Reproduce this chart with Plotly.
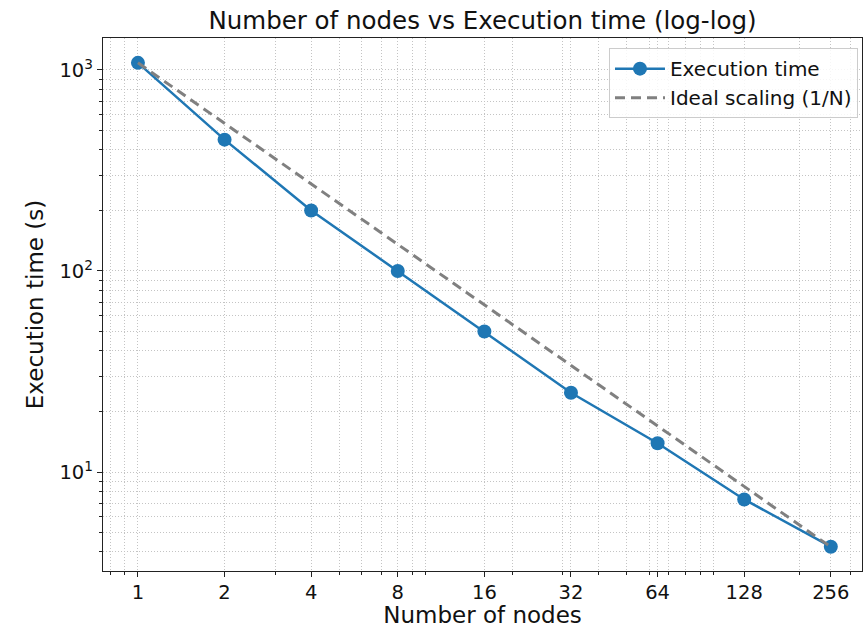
import numpy as np
import plotly.graph_objects as go

nodes = [1, 2, 4, 8, 16, 32, 64, 128, 256]
exec_time = [1085, 450, 200, 100, 50, 24.8, 13.9, 7.3, 4.25]
ideal_time = [exec_time[0] / n for n in nodes]

x_tick_vals = nodes
x_tick_text = [str(n) for n in nodes]
y_tick_vals = [10, 100, 1000]
y_tick_text = ["10<sup>1</sup>", "10<sup>2</sup>", "10<sup>3</sup>"]

x_minor = [0.7, 0.8, 0.9] + [m * 10 ** k for k in range(0, 3) for m in range(1, 10)]
y_minor = [m * 10 ** k for k in range(0, 4) for m in range(1, 10)]

GRID = "#c4c4c4"
GDASH = "1px,2px"
FONT = "DejaVu Sans, sans-serif"

fig = go.Figure()
fig.add_trace(go.Scatter(
    x=nodes, y=exec_time, mode="lines+markers", name="Execution time",
    line=dict(color="#1f77b4", width=2.5),
    marker=dict(size=14, color="#1f77b4"),
))
fig.add_trace(go.Scatter(
    x=nodes, y=ideal_time, mode="lines", name="Ideal scaling (1/N)",
    line=dict(color="#808080", width=3, dash="10px,6px"),
))

axis_common = dict(
    showline=True, linecolor="#222", linewidth=1.3, mirror=True,
    ticks="outside", ticklen=5, tickwidth=1.2, tickcolor="#222",
    showgrid=True, gridcolor=GRID, griddash=GDASH, gridwidth=1,
    zeroline=False, tickfont=dict(size=19.5, color="#111", family=FONT),
)

fig.update_xaxes(
    type="log", range=[np.log10(0.756), np.log10(328.6)],
    tickmode="array", tickvals=x_tick_vals, ticktext=x_tick_text,
    ticklabelstandoff=-2,
    title=dict(text="Number of nodes", font=dict(size=23, color="#111", family=FONT), standoff=9),
    minor=dict(tickmode="array", tickvals=x_minor, ticks="outside", ticklen=3,
               tickcolor="#222", showgrid=True, gridcolor=GRID, griddash=GDASH, gridwidth=1),
    **axis_common,
)
fig.update_yaxes(
    type="log", range=[0.5075, 3.159],
    tickmode="array", tickvals=y_tick_vals, ticktext=y_tick_text,
    title=dict(text="Execution time (s)", font=dict(size=23, color="#111", family=FONT), standoff=9),
    minor=dict(tickmode="array", tickvals=y_minor, ticks="outside", ticklen=3,
               tickcolor="#222", showgrid=True, gridcolor=GRID, griddash=GDASH, gridwidth=1),
    **axis_common,
)

fig.update_layout(
    width=868, height=628,
    margin=dict(l=103, r=6, t=38, b=57, autoexpand=False),
    paper_bgcolor="white", plot_bgcolor="white",
    font=dict(family=FONT, color="#111"),
    title=dict(text="Number of nodes vs Execution time (log-log)", x=(103 + 759 / 2) / 868,
               xanchor="center", y=1 - 20 / 628, yanchor="middle",
               font=dict(size=24.5, color="#111", family=FONT)),
    legend=dict(x=0.9947, y=0.981, xanchor="right", yanchor="top",
                bgcolor="rgba(255,255,255,0.85)", bordercolor="#cccccc", borderwidth=1,
                itemwidth=50, tracegroupgap=4,
                font=dict(size=20, color="#111", family=FONT)),
    showlegend=True,
)

fig.write_html("out.html", config={"displayModeBar": False},
               post_script="document.body.style.margin='0';document.body.style.overflow='hidden';")
